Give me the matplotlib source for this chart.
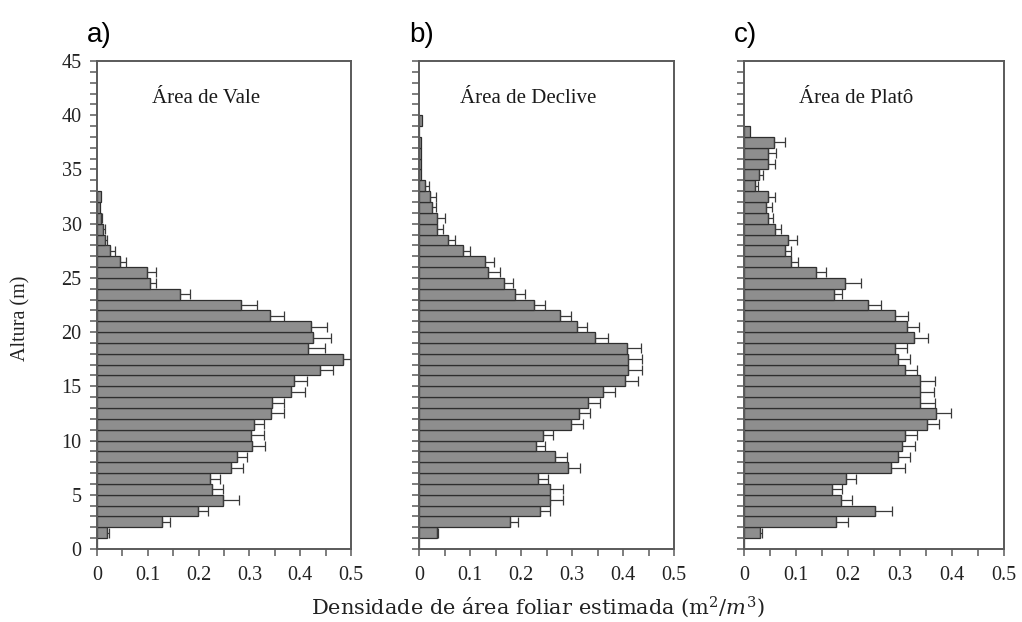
import numpy as np
import matplotlib
matplotlib.use("Agg")
import matplotlib.pyplot as plt
from matplotlib.ticker import MultipleLocator, FuncFormatter

# Leaf area density per 1-m height layer (index = lower edge of layer, m)
vale_lad = [0.0, 0.019, 0.128, 0.198, 0.248, 0.227, 0.223, 0.263, 0.275, 0.306,
            0.304, 0.309, 0.342, 0.345, 0.381, 0.388, 0.438, 0.484, 0.415, 0.426,
            0.422, 0.340, 0.284, 0.164, 0.104, 0.098, 0.045, 0.026, 0.016, 0.012,
            0.007, 0.005, 0.008]
vale_err = [0.0, 0.004, 0.015, 0.020, 0.031, 0.022, 0.020, 0.025, 0.020, 0.025,
            0.025, 0.020, 0.026, 0.023, 0.029, 0.026, 0.026, 0.036, 0.033, 0.035,
            0.030, 0.029, 0.030, 0.020, 0.013, 0.019, 0.013, 0.009, 0.004, 0.003,
            0.002, 0.0, 0.0]

declive_lad = [0.0, 0.035, 0.178, 0.237, 0.257, 0.257, 0.234, 0.292, 0.266, 0.230,
               0.243, 0.299, 0.313, 0.332, 0.361, 0.403, 0.409, 0.409, 0.407, 0.346,
               0.309, 0.276, 0.226, 0.189, 0.167, 0.136, 0.129, 0.087, 0.057, 0.035,
               0.035, 0.025, 0.021, 0.012, 0.004, 0.004, 0.004, 0.004, 0.0, 0.006]
declive_err = [0.0, 0.003, 0.017, 0.020, 0.026, 0.026, 0.018, 0.023, 0.025, 0.018,
               0.020, 0.023, 0.022, 0.023, 0.024, 0.026, 0.029, 0.029, 0.028, 0.025,
               0.021, 0.023, 0.021, 0.019, 0.018, 0.022, 0.018, 0.013, 0.013, 0.012,
               0.015, 0.008, 0.013, 0.008, 0.0, 0.0, 0.0, 0.0, 0.0, 0.0]

plato_lad = [0.0, 0.030, 0.176, 0.251, 0.186, 0.170, 0.197, 0.282, 0.296, 0.303,
             0.309, 0.351, 0.370, 0.338, 0.338, 0.338, 0.309, 0.296, 0.291, 0.326,
             0.313, 0.290, 0.239, 0.174, 0.194, 0.139, 0.091, 0.078, 0.085, 0.059,
             0.046, 0.043, 0.046, 0.021, 0.028, 0.046, 0.046, 0.058, 0.011]
plato_err = [0.0, 0.004, 0.024, 0.033, 0.021, 0.018, 0.019, 0.027, 0.023, 0.025,
             0.024, 0.024, 0.029, 0.029, 0.028, 0.029, 0.023, 0.023, 0.023, 0.028,
             0.024, 0.026, 0.024, 0.014, 0.031, 0.019, 0.013, 0.013, 0.016, 0.013,
             0.010, 0.010, 0.013, 0.006, 0.008, 0.013, 0.016, 0.021, 0.0]

titles = ["Área de Vale", "Área de Declive", "Área de Platô"]
panel_tags = ["a)", "b)", "c)"]
x_ticks = [0.0, 0.1, 0.2, 0.3, 0.4, 0.5]
y_ticks = [0, 5, 10, 15, 20, 25, 30, 35, 40, 45]

series = [(vale_lad, vale_err), (declive_lad, declive_err), (plato_lad, plato_err)]

serif = ["Liberation Serif", "DejaVu Serif"]
plt.rcParams["mathtext.fontset"] = "dejavuserif"

W, H = 1022, 622
fig = plt.figure(figsize=(W / 100, H / 100), dpi=100)

# axes boxes in pixels: (left, right)
boxes = [(97, 351), (419, 674), (744, 1004)]
top_px, bottom_px = 61, 549

spine_col = "#5a5a5a"
bar_col = "#8e8e8e"
edge_col = "#2e2e2e"

def fmt(v, _pos):
    return "0" if abs(v) < 1e-9 else f"{v:.1f}"

for i, ((lad, err), (l, r)) in enumerate(zip(series, boxes)):
    ax = fig.add_axes([l / W, 1 - bottom_px / H, (r - l) / W, (bottom_px - top_px) / H])
    lad = np.asarray(lad)
    err = np.asarray(err)
    layers = np.arange(len(lad))
    ax.barh(layers, lad, height=1.0, align="edge", color=bar_col,
            edgecolor=edge_col, linewidth=0.9, zorder=2)
    m = err > 0
    ax.errorbar(lad[m], layers[m] + 0.5, xerr=[np.zeros(m.sum()), err[m]],
                fmt="none", ecolor="#3a3a3a", elinewidth=0.9, capsize=3.5,
                capthick=0.9, zorder=3)
    ax.set_xlim(0, 0.5)
    ax.set_ylim(0, 45)
    ax.xaxis.set_major_locator(plt.FixedLocator(x_ticks))
    ax.xaxis.set_major_formatter(FuncFormatter(fmt))
    ax.xaxis.set_minor_locator(MultipleLocator(0.05))
    ax.yaxis.set_major_locator(plt.FixedLocator(y_ticks))
    ax.yaxis.set_minor_locator(MultipleLocator(1))
    ax.tick_params(axis="both", which="both", direction="out", length=5,
                   width=1.1, color=spine_col, labelsize=14.5)
    ax.tick_params(axis="x", which="major", pad=7)
    ax.tick_params(axis="y", which="major", pad=6)
    for lab in ax.get_xticklabels() + ax.get_yticklabels():
        lab.set_fontfamily(serif)
        lab.set_color("#222222")
    if i > 0:
        ax.tick_params(axis="y", labelleft=False)
    for s in ax.spines.values():
        s.set_color(spine_col)
        s.set_linewidth(1.4)
    ax.text(0.43, 0.924, titles[i], transform=ax.transAxes, ha="center",
            va="center", fontsize=15, family=serif, color="#1a1a1a")
    fig.text((l - 10) / W, 1 - 35 / H, panel_tags[i], ha="left", va="center",
             fontsize=20, family=["Liberation Sans", "DejaVu Sans"], color="black")

fig.text(21 / W, 1 - 318 / H, "Altura (m)", rotation=90, ha="center", va="center",
         fontsize=14.5, family=serif, color="#222222")
fig.text(538 / W, 1 - 607 / H, r"Densidade de área foliar estimada (m$^2/m^3$)",
         ha="center", va="center", fontsize=15, family=["DejaVu Serif"],
         color="#222222")

fig.savefig("out.png", dpi=100, facecolor="white")
